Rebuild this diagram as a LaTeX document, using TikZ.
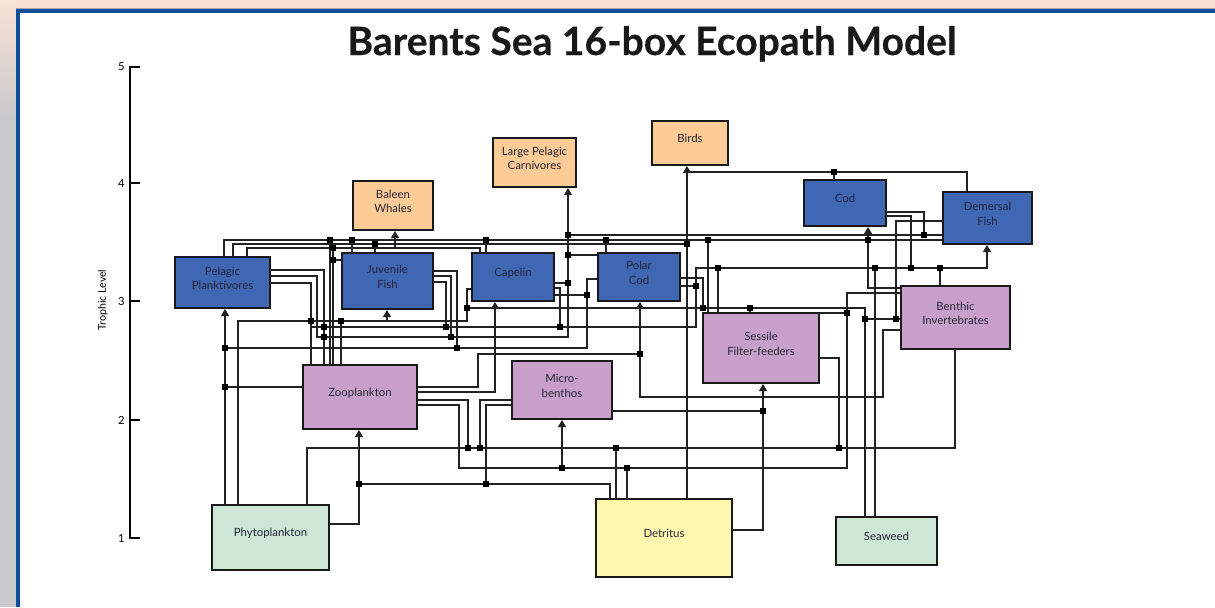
\documentclass[tikz,border=0pt]{standalone}
\usepackage{fontspec}
\setmainfont{Lato}
\newfontfamily\titlefont{Lato}[FakeBold=0.4]
\usetikzlibrary{arrows.meta,fit,backgrounds}
\definecolor{peach}{HTML}{F8E2D6}
\definecolor{leftgray}{HTML}{C9C9CB}
\definecolor{frameblue}{HTML}{0B4F9C}
\definecolor{fishblue}{HTML}{3F67B3}
\definecolor{toporange}{HTML}{FDCB95}
\definecolor{invpurple}{HTML}{C79FC9}
\definecolor{prodgreen}{HTML}{CDE6D6}
\definecolor{detyellow}{HTML}{FFF8AE}
\definecolor{labelgray}{HTML}{26263A}
\definecolor{lncol}{HTML}{222222}
\newcommand\boxfont{\fontsize{5.7}{7.3}\selectfont}
\newcommand\jn[1]{\fill[black] (#1) ++(-3,-3) rectangle ++(6,6);}
\tikzset{
  nbox/.style={draw=black!90, line width=1pt, inner sep=0pt, align=center, font=\boxfont, text=labelgray},
  fishbox/.style={nbox, fill=fishblue},
  topbox/.style={nbox, fill=toporange},
  invbox/.style={nbox, fill=invpurple},
  prodbox/.style={nbox, fill=prodgreen},
  detbox/.style={nbox, fill=detyellow},
  ln/.style={line width=0.55pt, draw=lncol},
  arr/.style={ln, -{Triangle[width=4pt,length=3.5pt]}},
  axisln/.style={line width=0.8pt, draw=black},
  ticklab/.style={font=\fontsize{5.6}{6}\selectfont, text=black, anchor=east, inner sep=0pt}
}
\begin{document}
\begin{tikzpicture}[x=0.5pt,y=-0.5pt]
\useasboundingbox (0,0) rectangle (1215,607);
% title
\node[font=\titlefont\fontsize{19.5}{22}\selectfont\bfseries, text=black!90, anchor=base, inner sep=0pt] (title) at (652,55) {Barents Sea 16-box Ecopath Model};
% axis
\draw[axisln] (140,67) -- (130,67) -- (130,538) -- (140,538);
\draw[axisln] (130,183) -- (140,183);
\draw[axisln] (130,301) -- (140,301);
\draw[axisln] (130,420) -- (140,420);
\node[ticklab] (t5) at (125,67) {5};
\node[ticklab] (t4) at (125,183) {4};
\node[ticklab] (t3) at (125,301) {3};
\node[ticklab] (t2) at (125,420) {2};
\node[ticklab] (t1) at (125,538) {1};
\node[rotate=90, font=\fontsize{5.3}{6}\selectfont, text=black, inner sep=0pt] (ylab) at (103,300) {Trophic Level};

% boxes
\node[fishbox, fit={(175,257) (270,308)}] (pp) {Pelagic\\Planktivores};
\node[fishbox, fit={(342,253) (433,309)}] (jf) {Juvenile\\Fish};
\node[topbox, fit={(353,181) (433,230)}] (bw) {Baleen\\Whales};
\node[topbox, fit={(493,138) (576,187)}] (lpc) {Large Pelagic\\Carnivores};
\node[topbox, fit={(652,121) (728,165)}] (birds) {Birds};
\node[fishbox, fit={(472,253) (554,301)}] (cap) {Capelin};
\node[fishbox, fit={(598,253) (680,301)}] (pc) {Polar\\Cod};
\node[fishbox, fit={(804,180) (886,226)}] (cod) {Cod};
\node[fishbox, fit={(943,192) (1032,244)}] (dem) {Demersal\\Fish};
\node[invbox, fit={(901,286) (1010,349)}] (ben) {Benthic\\Invertebrates};
\node[invbox, fit={(703,313) (819,383)}] (ses) {Sessile\\Filter-feeders};
\node[invbox, fit={(303,365) (417,429)}] (zoo) {Zooplankton};
\node[invbox, fit={(512,361) (612,419)}] (mb) {Micro-\\benthos};
\node[prodbox, fit={(212,505) (329,570)}] (phy) {Phytoplankton};
\node[detbox, fit={(596,499) (732,577)}] (det) {Detritus};
\node[prodbox, fit={(836,517) (937,565)}] (sea) {Seaweed};

\begin{scope}[on background layer]
% background and frame
\fill[white] (0,0) rectangle (1215,607);
\fill[peach] (0,0) rectangle (1215,9);
\shade[top color=peach, bottom color=leftgray] (0,0) rectangle (17,120);
\fill[leftgray] (0,120) rectangle (17,607);
\fill[black!35] (16,8) rectangle (1215,9);
\fill[frameblue] (16,9) rectangle (1215,13);
\fill[frameblue] (16,9) rectangle (20,607);

% connectors
\draw[arr] (225,0 |- phy.north) -- (225,0 |- pp.south);
\draw[ln] (zoo.west |- 0,387) -- (225,387);
\draw[ln] (225,348) -- (587,348) |- (pc.west |- 0,279);
\draw[ln] (jf.east |- 0,271) -| (457,348);
\draw[ln] (jf.east |- 0,276) -| (451,337);
\draw[ln] (jf.east |- 0,282) -| (446,327);
\draw[ln] (pp.east |- 0,270) -| (324,0 |- zoo.north);
\draw[arr] (pp.east |- 0,276) -| (317,337) -| (568,0 |- lpc.south);
\draw[ln] (pp.east |- 0,283) -| (311,0 |- zoo.north);
\draw[arr] (311,327) -- (696,327) -- (696,268) -| (987,0 |- dem.south);
\draw[ln] (238,0 |- phy.north) |- (467,321) |- (cap.west |- 0,289);
\draw[arr] (387,321) -- (387,0 |- jf.south);
\draw[ln] (330,0 |- zoo.north) -- (330,240);
\draw[ln] (333,0 |- zoo.north) -- (333,248);
\draw[ln] (333,260) -- (jf.west |- 0,260);
\draw[ln] (341,0 |- zoo.north) -- (341,321);
\draw[ln] (224,0 |- pp.north) |- (dem.west |- 0,240);
\draw[ln] (352,0 |- jf.north) -- (352,240);
\draw[ln] (486,0 |- cap.north) -- (486,240);
\draw[ln] (606,0 |- pc.north) -- (606,240);
\draw[ln] (708,0 |- ses.north) -- (708,240);
\draw[arr] (ben.west |- 0,288) -| (868,0 |- cod.south);
\draw[ln] (233,0 |- pp.north) |- (687,244);
\draw[ln] (375,0 |- jf.north) -- (375,244);
\draw[ln] (247,0 |- pp.north) |- (480,248) -- (480,0 |- cap.north);
\draw[arr] (395,248) -- (395,0 |- bw.south);
\draw[ln] (568,235) -- (dem.west |- 0,235);
\draw[ln] (cod.east |- 0,212) -| (924,235);
\draw[arr] (687,0 |- det.north) -- (687,0 |- birds.south);
\draw[ln] (687,172) -| (967,0 |- dem.north);
\draw[ln] (834,0 |- cod.north) -- (834,172);
\draw[ln] (cod.east |- 0,216) -| (911,268);
\draw[ln] (dem.west |- 0,221) -| (896,319);
\draw[ln] (865,319) -- (ben.west |- 0,319);
\draw[ln] (467,308) -| (865,0 |- sea.north);
\draw[ln] (pc.east |- 0,278) -| (703,308);
\draw[ln] (750,0 |- ses.north) -- (750,308);
\draw[ln] (cap.east |- 0,283) -- (568,283);
\draw[ln] (cap.east |- 0,288) -| (560,327);
\draw[ln] (cap.east |- 0,295) -- (587,295);
\draw[ln] (pc.west |- 0,255) -- (568,255);
\draw[ln] (pc.east |- 0,286) -- (696,286);
\draw[ln] (875,0 |- sea.north) -- (875,268);
\draw[ln] (940,0 |- ben.north) -- (940,268);
\draw[ln] (718,0 |- ses.north) -- (718,268);
\draw[ln] (ben.west |- 0,293) -| (847,468) -| (459,405) -- (zoo.east |- 0,405);
\draw[ln] (ses.east |- 0,313) -- (847,313);
\draw[arr] (562,468) -- (562,0 |- mb.south);
\draw[arr] (ben.west |- 0,330) -| (883,397) -| (640,0 |- pc.south);
\draw[ln] (zoo.east |- 0,387) -| (478,354) -- (640,354);
\draw[arr] (zoo.east |- 0,392) -| (495,0 |- cap.south);
\draw[ln] (zoo.east |- 0,400) -| (468,448);
\draw[ln] (307,0 |- phy.north) |- (955,448) -- (955,0 |- ben.south);
\draw[ln] (mb.west |- 0,400) -| (480,448);
\draw[ln] (mb.west |- 0,405) -| (486,484);
\draw[ln] (359,484) -| (610,0 |- det.north);
\draw[arr] (phy.east |- 0,524) -| (359,0 |- zoo.south);
\draw[ln] (616,0 |- det.north) -- (616,448);
\draw[ln] (627,0 |- det.north) -- (627,468);
\draw[arr] (det.east |- 0,530) -| (763,0 |- ses.south);
\draw[ln] (mb.east |- 0,411) -- (763,411);
\draw[ln] (ses.east |- 0,358) -| (839,448);

% junctions
\foreach \p in {{225,348},{225,387},{457,348},{587,295},{451,337},{446,327},{324,327},{324,337},
  {568,235},{568,255},{568,283},{560,327},{696,286},{718,268},{875,268},{911,268},{940,268},
  {311,321},{341,321},{467,308},{330,240},{352,240},{486,240},{606,240},{708,240},{868,240},
  {375,244},{687,244},{333,248},{333,260},{924,235},{834,172},{896,319},{865,319},{703,308},
  {750,308},{847,313},{562,468},{627,468},{640,354},{468,448},{480,448},{616,448},{839,448},
  {359,484},{486,484},{763,411}} {\jn{\p}}
\end{scope}
\end{tikzpicture}
\end{document}
